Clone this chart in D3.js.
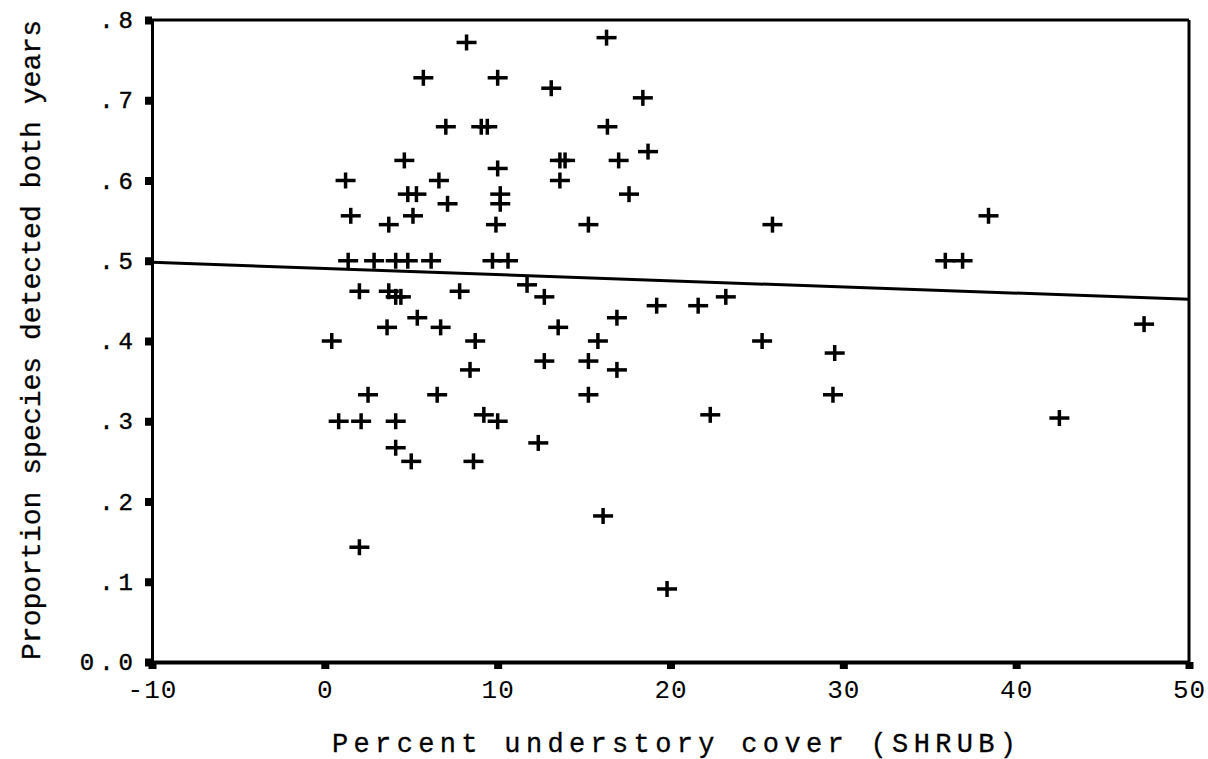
<!DOCTYPE html>
<html><head><meta charset="utf-8">
<script src="https://cdn.jsdelivr.net/npm/d3@7"></script>
<style>body{margin:0;background:#fff}svg{display:block}</style>
</head><body>
<svg id="c" width="1208" height="759"></svg>
<script>
const shrubCover = [8.2,16.3,5.7,10.0,13.1,18.4,7.0,9.05,9.4,16.35,4.6,13.6,13.9,17.0,18.7,1.2,6.6,10.0,13.6,4.8,5.3,7.1,10.15,10.15,17.6,1.5,3.7,5.1,9.9,15.25,25.9,38.4,35.9,36.9,1.35,2.85,4.1,4.8,6.15,9.7,10.6,11.7,12.7,2.0,3.7,4.1,4.4,5.35,3.6,6.7,0.4,7.8,8.7,8.4,6.5,2.5,0.8,2.1,4.1,4.1,5.0,2.0,9.2,10.0,12.35,8.6,13.5,12.7,16.9,15.8,15.25,16.9,15.25,19.2,21.6,23.2,22.3,16.1,19.8,25.3,29.5,29.4,42.5,47.4];
const proportionBoth = [0.772,0.778,0.728,0.728,0.715,0.703,0.667,0.667,0.667,0.667,0.625,0.625,0.625,0.625,0.636,0.6,0.6,0.615,0.6,0.583,0.583,0.571,0.583,0.571,0.583,0.556,0.545,0.556,0.545,0.545,0.545,0.556,0.5,0.5,0.5,0.5,0.5,0.5,0.5,0.5,0.5,0.47,0.455,0.462,0.462,0.455,0.455,0.429,0.417,0.417,0.4,0.462,0.4,0.364,0.333,0.333,0.3,0.3,0.3,0.267,0.25,0.143,0.308,0.3,0.273,0.25,0.417,0.375,0.429,0.4,0.375,0.364,0.333,0.444,0.444,0.455,0.308,0.182,0.091,0.4,0.385,0.333,0.304,0.421];
const fitX = [-10, 50];
const fitY = [0.498, 0.452];
const xTicks = [-10, 0, 10, 20, 30, 40, 50];
const xTickLabels = ["-10","0","10","20","30","40","50"];
const yTicks = [0, 0.1, 0.2, 0.3, 0.4, 0.5, 0.6, 0.7, 0.8];
const yTickLabels = ["0.0",".1",".2",".3",".4",".5",".6",".7",".8"];
const xTitle = "Percent understory cover (SHRUB)";
const yTitle = "Proportion species detected both years";

const svg = d3.select("#c");
const x = d3.scaleLinear().domain([-10, 50]).range([152, 1189]);
const y = d3.scaleLinear().domain([0, 0.8]).range([662, 20]);
const mono = "'Liberation Mono','DejaVu Sans Mono',monospace";

// frame
svg.append("line").attr("x1",x(-10)-6).attr("x2",x(50)).attr("y1",y(0.8)).attr("y2",y(0.8)).attr("stroke","#000").attr("stroke-width",3);
svg.append("line").attr("x1",x(50)).attr("x2",x(50)).attr("y1",y(0.8)).attr("y2",y(0)).attr("stroke","#000").attr("stroke-width",3);

// axes via d3
const xAxis = svg.append("g").attr("transform",`translate(0,${y(0)})`)
  .call(d3.axisBottom(x).tickValues(xTicks).tickFormat((d,i)=>xTickLabels[i]).tickSize(0).tickPadding(18));
xAxis.select(".domain").attr("stroke","#000").attr("stroke-width",4);
xAxis.selectAll("text").attr("font-family",mono)
  .attr("font-size",26).attr("fill","#000").attr("letter-spacing",1);
xAxis.selectAll(".tick").append("rect").attr("x",-4).attr("y",0).attr("width",8).attr("height",7).attr("fill","#000");

const yAxis = svg.append("g").attr("transform",`translate(${x(-10)},0)`)
  .call(d3.axisLeft(y).tickValues(yTicks).tickFormat((d,i)=>yTickLabels[i]).tickSize(0).tickPadding(14));
yAxis.select(".domain").attr("stroke","#000").attr("stroke-width",3);
yAxis.selectAll("text").attr("font-family",mono)
  .attr("font-size",24).attr("fill","#000").attr("letter-spacing",5).attr("stroke","#000").attr("stroke-width",0.4);
yAxis.selectAll(".tick").append("rect").attr("x",-7).attr("y",-4).attr("width",7).attr("height",8).attr("fill","#000");

// regression line
svg.append("line").attr("x1",x(fitX[0])).attr("y1",y(fitY[0])).attr("x2",x(fitX[1])).attr("y2",y(fitY[1]))
  .attr("stroke","#000").attr("stroke-width",3);

// points as plus markers
const pts = shrubCover.map((v,i)=>({x:v,y:proportionBoth[i]}));
const g = svg.append("g").attr("stroke","#000").attr("stroke-width",3.5);
pts.forEach(p=>{
  const cx = x(p.x), cy = y(p.y);
  g.append("line").attr("x1",cx-10).attr("x2",cx+10).attr("y1",cy).attr("y2",cy);
  g.append("line").attr("x1",cx).attr("x2",cx).attr("y1",cy-8).attr("y2",cy+8);
});

// titles
svg.append("text").attr("x",332).attr("y",752).attr("textLength",684).attr("lengthAdjust","spacing")
  .attr("font-family",mono).attr("font-size",27).attr("fill","#000").attr("stroke","#000").attr("stroke-width",0.3).text(xTitle);
svg.append("text").attr("transform","translate(40,660) rotate(-90)").attr("textLength",640).attr("lengthAdjust","spacingAndGlyphs")
  .attr("font-family",mono).attr("font-size",28).attr("fill","#000").attr("stroke","#000").attr("stroke-width",0.3).text(yTitle);
</script>
</body></html>
